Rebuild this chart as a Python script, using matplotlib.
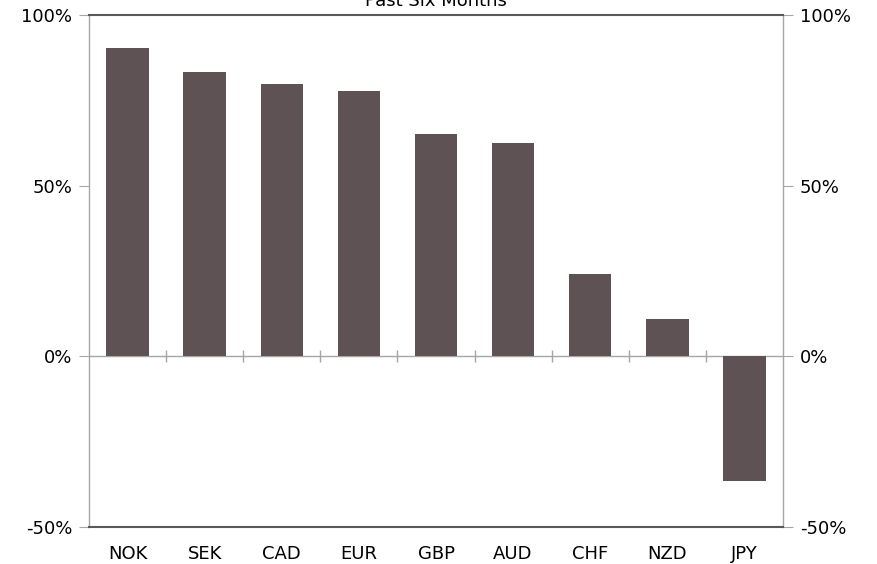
import matplotlib.pyplot as plt
import numpy as np

# Values (percent)
currencies = ['NOK', 'SEK', 'CAD', 'EUR', 'GBP', 'AUD', 'CHF', 'NZD', 'JPY']
returns = [90.3, 83.2, 79.7, 77.6, 65.0, 62.6, 24.1, 10.9, -36.5]
y_ticks = [-50, 0, 50, 100]
y_labels = ['-50%', '0%', '50%', '100%']

plt.rcParams['font.family'] = 'DejaVu Sans'

fig = plt.figure(figsize=(8.77, 5.64), dpi=100)
ax = fig.add_axes([0.1015, 0.0656, 0.7913, 0.9078])

x = np.arange(len(currencies))
ax.bar(x, returns, width=0.55, color='#5e5255', zorder=2)

# zero line with boundary tick marks
ax.axhline(0, color='#a6a6a6', lw=1, zorder=1)
ax.vlines(x[:-1] + 0.5, -1.8, 1.8, color='#a6a6a6', lw=1, zorder=1)

ax.set_xlim(-0.5, len(currencies) - 0.5)
ax.set_ylim(-50, 100)
ax.set_xticks(x)
ax.set_xticklabels(currencies)
ax.set_yticks(y_ticks)
ax.set_yticklabels(y_labels)
ax.tick_params(axis='x', length=0, pad=13, labelsize=13)
ax.tick_params(axis='y', direction='out', length=7, color='#a6a6a6', labelsize=13,
               left=True, right=True, labelleft=True, labelright=True, pad=5)

for side in ['left', 'right']:
    ax.spines[side].set_color('#a6a6a6')
    ax.spines[side].set_linewidth(1)
for side in ['top', 'bottom']:
    ax.spines[side].set_color('#595959')
    ax.spines[side].set_linewidth(1.5)

fig.text(0.497, 1 - 6 / 564, 'Past Six Months', ha='center', va='baseline', fontsize=13)

plt.savefig('out.png', dpi=100)
